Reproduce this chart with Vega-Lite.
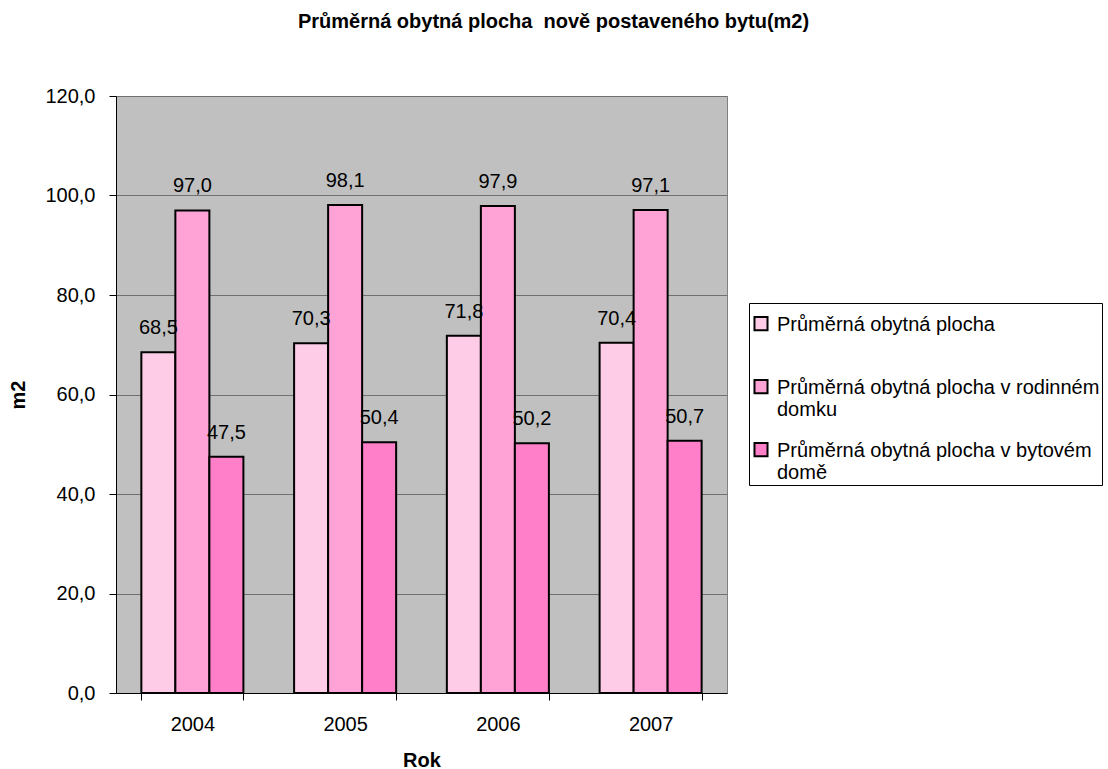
{
  "$schema": "https://vega.github.io/schema/vega-lite/v6.json",
  "width": 611,
  "height": 597,
  "autosize": "none",
  "padding": {"left": 116, "top": 96, "right": 381, "bottom": 76},
  "background": "white",
  "title": {
    "text": "Průměrná obytná plocha\u00a0 nově postaveného bytu(m2)",
    "font": "Liberation Sans",
    "fontSize": 20,
    "fontWeight": "bold",
    "color": "black",
    "anchor": "middle",
    "frame": "group",
    "dx": 132,
    "offset": 54
  },
  "config": {
    "locale": {"number": {"decimal": ",", "thousands": " ", "grouping": [3], "currency": ["", " Kč"]}},
    "view": {"fill": "#C0C0C0", "stroke": "#808080", "strokeWidth": 1},
    "font": "Liberation Sans"
  },
  "data": {
    "values": [
      {"rok": "2004", "serie": "Průměrná obytná plocha", "hodnota": 68.5},
      {"rok": "2004", "serie": "Průměrná obytná plocha v rodinném domku", "hodnota": 97.0},
      {"rok": "2004", "serie": "Průměrná obytná plocha v bytovém domě", "hodnota": 47.5},
      {"rok": "2005", "serie": "Průměrná obytná plocha", "hodnota": 70.3},
      {"rok": "2005", "serie": "Průměrná obytná plocha v rodinném domku", "hodnota": 98.1},
      {"rok": "2005", "serie": "Průměrná obytná plocha v bytovém domě", "hodnota": 50.4},
      {"rok": "2006", "serie": "Průměrná obytná plocha", "hodnota": 71.8},
      {"rok": "2006", "serie": "Průměrná obytná plocha v rodinném domku", "hodnota": 97.9},
      {"rok": "2006", "serie": "Průměrná obytná plocha v bytovém domě", "hodnota": 50.2},
      {"rok": "2007", "serie": "Průměrná obytná plocha", "hodnota": 70.4},
      {"rok": "2007", "serie": "Průměrná obytná plocha v rodinném domku", "hodnota": 97.1},
      {"rok": "2007", "serie": "Průměrná obytná plocha v bytovém domě", "hodnota": 50.7}
    ]
  },
  "encoding": {
    "x": {
      "field": "rok",
      "type": "nominal",
      "scale": {"paddingInner": 0.332, "paddingOuter": 0.166},
      "axis": {
        "title": "Rok",
        "titleFont": "Liberation Sans",
        "titleFontSize": 20,
        "titleFontWeight": "bold",
        "titleColor": "black",
        "titlePadding": 16,
        "labelAngle": 0,
        "labelFont": "Liberation Sans",
        "labelFontSize": 20,
        "labelColor": "black",
        "labelPadding": 14,
        "tickBand": "extent",
        "tickSize": 7,
        "tickColor": "black",
        "domainColor": "black",
        "domainWidth": 1
      }
    },
    "xOffset": {
      "field": "serie",
      "type": "nominal",
      "sort": ["Průměrná obytná plocha", "Průměrná obytná plocha v rodinném domku", "Průměrná obytná plocha v bytovém domě"]
    },
    "y": {
      "field": "hodnota",
      "type": "quantitative",
      "scale": {"domain": [0, 120], "nice": false},
      "axis": {
        "title": "m2",
        "titleFont": "Liberation Sans",
        "titleFontSize": 20,
        "titleFontWeight": "bold",
        "titleColor": "black",
        "titlePadding": 16,
        "values": [0, 20, 40, 60, 80, 100, 120],
        "format": ".1f",
        "labelFont": "Liberation Sans",
        "labelFontSize": 20,
        "labelColor": "black",
        "labelPadding": 14,
        "tickSize": 7,
        "tickColor": "black",
        "domainColor": "black",
        "grid": true,
        "gridColor": "#707070",
        "gridWidth": 1
      }
    }
  },
  "layer": [
    {
      "mark": {"type": "bar", "stroke": "black", "strokeWidth": 2},
      "encoding": {
        "color": {
          "field": "serie",
          "type": "nominal",
          "sort": ["Průměrná obytná plocha", "Průměrná obytná plocha v rodinném domku", "Průměrná obytná plocha v bytovém domě"],
          "scale": {"range": ["#FFCCE8", "#FFA3D6", "#FF80C8"]},
          "legend": {
            "title": null,
            "orient": "none",
            "legendX": 633,
            "legendY": 207,
            "direction": "vertical",
            "strokeColor": "black",
            "fillColor": "white",
            "padding": 2,
            "symbolType": "M-1,0.32H1V2.32H-1Z",
            "symbolSize": 170,
            "symbolStrokeColor": "black",
            "symbolStrokeWidth": 2,
            "symbolOpacity": 1,
            "labelFont": "Liberation Sans",
            "labelFontSize": 20,
            "labelColor": "black",
            "labelLimit": 400,
            "labelBaseline": "top",
            "labelOffset": 6,
            "rowPadding": 11,
            "labelExpr": "datum.label == 'Průměrná obytná plocha v rodinném domku' ? ['Průměrná obytná plocha v rodinném', 'domku'] : datum.label == 'Průměrná obytná plocha v bytovém domě' ? ['Průměrná obytná plocha v bytovém', 'domě'] : ['Průměrná obytná plocha', '']"
          }
        }
      }
    },
    {
      "mark": {"type": "text", "baseline": "bottom", "dy": -14, "fontSize": 20, "font": "Liberation Sans", "color": "black"},
      "encoding": {
        "text": {"field": "hodnota", "type": "quantitative", "format": ".1f"}
      }
    }
  ]
}
